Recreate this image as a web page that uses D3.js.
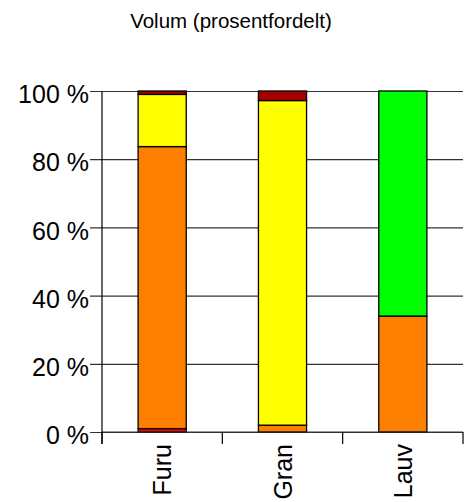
<!DOCTYPE html>
<html>
<head>
<meta charset="utf-8">
<script src="https://cdn.jsdelivr.net/npm/d3@7/dist/d3.min.js"></script>
<style>
  html, body { margin: 0; padding: 0; background: #fff; }
  svg { display: block; font-family: "Liberation Sans", Arial, sans-serif; }
</style>
</head>
<body>
<svg id="chart" width="464" height="502"></svg>
<script>
// ---- data ----
const title = "Volum (prosentfordelt)";
const categories = ["Furu", "Gran", "Lauv"];
const seriesNames = ["s1", "s2", "s3", "s4", "s5"];
const seriesColors = ["#FF0000", "#FF8000", "#FFFF00", "#A80000", "#00FF00"];
const s1 = [1.0, 0.0, 0.0];
const s2 = [82.7, 2.0, 34.0];
const s3 = [15.3, 95.2, 0.0];
const s4 = [1.0, 2.8, 0.0];
const s5 = [0.0, 0.0, 66.0];
const yTicks = [0, 20, 40, 60, 80, 100];

// ---- build table ----
const seriesValues = [s1, s2, s3, s4, s5];
const table = categories.map((c, i) => {
  const row = { cat: c };
  seriesNames.forEach((s, j) => row[s] = seriesValues[j][i]);
  return row;
});

const svg = d3.select("#chart");
const mLeft = 102, mRight = 463, mTop = 91, mBottom = 432;

const x = d3.scaleBand().domain(categories).range([mLeft, mRight]).padding(0);
const y = d3.scaleLinear().domain([0, 100]).range([mBottom, mTop]);
const color = d3.scaleOrdinal().domain(seriesNames).range(seriesColors);

// title
svg.append("text")
  .attr("x", 231).attr("y", 28)
  .attr("text-anchor", "middle")
  .attr("font-size", 20.5)
  .attr("fill", "#000")
  .text(title);

// gridlines + y labels
const yAxis = d3.axisLeft(y).tickValues(yTicks).tickSize(-(mRight - mLeft)).tickSizeOuter(0)
  .tickFormat(d => d + " %");
const gy = svg.append("g").attr("transform", `translate(${mLeft},0)`).call(yAxis);
gy.select(".domain").remove();
gy.selectAll(".tick line").attr("stroke", "#333").attr("stroke-width", 1.2).attr("x1", -12);
gy.selectAll(".tick text")
  .attr("x", -13).attr("dy", "0.47em")
  .attr("font-size", 25).attr("fill", "#000")
  .attr("font-family", "'Liberation Sans', Arial, sans-serif");

// bars
const stack = d3.stack().keys(seriesNames);
const layers = stack(table);
const barW = x.bandwidth() * 0.4;

svg.append("g").selectAll("g").data(layers).join("g")
  .attr("fill", d => color(d.key))
  .selectAll("rect").data(d => d.filter(p => p[1] - p[0] > 0)).join("rect")
  .attr("x", d => x(d.data.cat) + (x.bandwidth() - barW) / 2)
  .attr("width", barW)
  .attr("y", d => y(d[1]))
  .attr("height", d => y(d[0]) - y(d[1]))
  .attr("stroke", "#000")
  .attr("stroke-width", 1.3);

// x axis
const xAxisLine = svg.append("g");
xAxisLine.append("line")
  .attr("x1", mLeft).attr("x2", mRight).attr("y1", y(0)).attr("y2", y(0))
  .attr("stroke", "#333").attr("stroke-width", 1.2);
xAxisLine.append("line")
  .attr("x1", mLeft).attr("x2", mLeft).attr("y1", y(100)).attr("y2", y(0) + 12)
  .attr("stroke", "#000").attr("stroke-width", 1.2);
const boundaries = categories.map(c => x(c)).concat([x(categories[categories.length - 1]) + x.bandwidth()]);
xAxisLine.selectAll("line.tk").data(boundaries).join("line")
  .attr("class", "tk")
  .attr("x1", d => Math.min(d, 463)).attr("x2", d => Math.min(d, 463))
  .attr("y1", y(0)).attr("y2", y(0) + 12)
  .attr("stroke", "#000").attr("stroke-width", 1.2);

xAxisLine.selectAll("text").data(categories).join("text")
  .attr("transform", d => `translate(${x(d) + x.bandwidth() / 2},${y(0) + 12}) rotate(-90)`)
  .attr("text-anchor", "end")
  .attr("dy", "0.36em")
  .attr("font-size", 25)
  .attr("fill", "#000")
  .text(d => d);
</script>
</body>
</html>
